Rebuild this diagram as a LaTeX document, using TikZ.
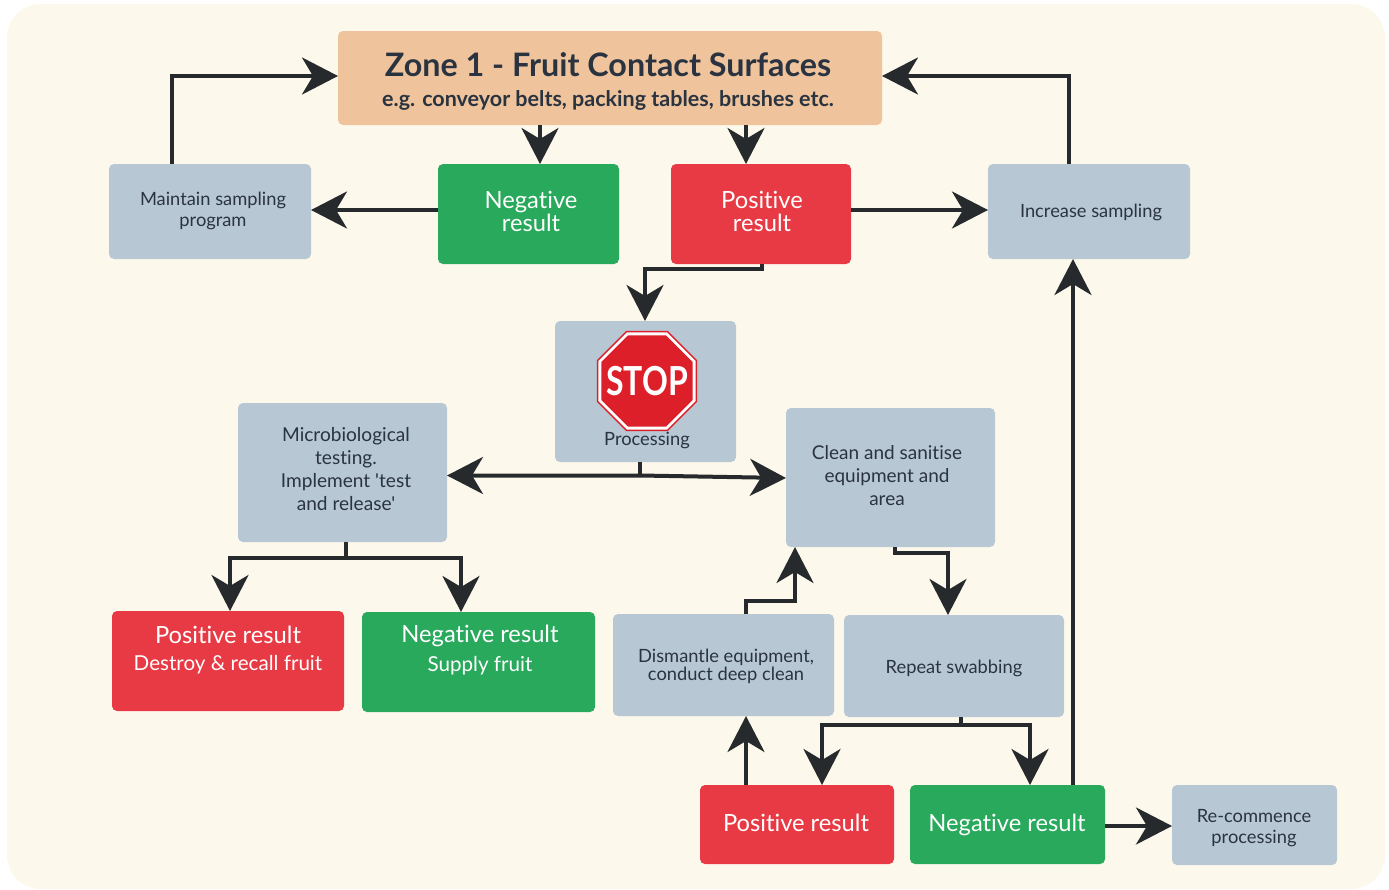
\documentclass[tikz,border=0pt]{standalone}
\usepackage{fontspec}
\defaultfontfeatures[\rmfamily]{}
\setmainfont{Lato}[Ligatures=NoCommon]
\usetikzlibrary{arrows.meta,shapes.geometric}
\definecolor{bgc}{HTML}{FDF8EC}
\definecolor{zonec}{HTML}{EFC39B}
\definecolor{greyc}{HTML}{B8C7D4}
\definecolor{greenc}{HTML}{28A95C}
\definecolor{redc}{HTML}{E83A44}
\definecolor{inkc}{HTML}{2A3340}
\definecolor{linec}{HTML}{262A2C}
\definecolor{stopc}{HTML}{DD1F29}
\tikzset{
  box/.style={rectangle,rounded corners=5pt,inner sep=0pt,outer sep=0pt,draw=none},
  txt/.style={align=center,inner sep=0pt,text=inkc,font=\fontsize{18.3}{21.5}\selectfont},
  wtxt/.style={align=center,inner sep=0pt,text=white},
  conn/.style={draw=linec,line width=4pt,line join=miter},
  arr/.style={conn,-{Stealth[length=36pt,width=37pt,inset=11pt]}},
  darr/.style={conn,{Stealth[length=36pt,width=37pt,inset=11pt]}-{Stealth[length=36pt,width=37pt,inset=11pt]}},
}
\newcommand{\bx}[6]{\node[box,fill=#6,minimum width={(#4-#2)*1pt},minimum height={(#5-#3)*1pt}] (#1) at ({(#2+#4)/2},{(#3+#5)/2}) {};}
\begin{document}
\begin{tikzpicture}[x=1pt,y=-1pt]
\useasboundingbox (0,0) rectangle (1389,889);
\fill[white] (0,0) rectangle (1389,889);
\fill[bgc,rounded corners=34pt] (7,4) rectangle (1385,889);
% boxes
\bx{zone}{338}{31}{882}{125}{zonec}
\bx{maintain}{109}{164}{311}{259}{greyc}
\bx{negA}{438}{164}{619}{264}{greenc}
\bx{posA}{671}{164}{851}{264}{redc}
\bx{inc}{988}{164}{1190}{259}{greyc}
\bx{stopbox}{555}{321}{736}{462}{greyc}
\bx{micro}{238}{403}{447}{542}{greyc}
\bx{clean}{786}{408}{995}{547}{greyc}
\bx{posB}{112}{611}{344}{711}{redc}
\bx{negB}{362}{612}{595}{712}{greenc}
\bx{dism}{613}{614}{834}{716}{greyc}
\bx{rep}{844}{615}{1064}{717}{greyc}
\bx{posC}{700}{785}{894}{864}{redc}
\bx{negC}{910}{785}{1105}{864}{greenc}
\bx{recom}{1172}{785}{1337}{865}{greyc}
% texts
\node[inkc,align=center,inner sep=0pt,font=\fontsize{32.3}{36}\bfseries\selectfont] (zoneT) at (608,65) {Zone 1 - Fruit Contact Surfaces};
\node[inkc,align=center,inner sep=0pt,font=\fontsize{21.5}{24}\bfseries\selectfont] (zoneS) at (608,100) {e.g. conveyor belts, packing tables, brushes etc.};
\node[txt] (maintainT) at (213,211) {Maintain sampling\\program};
\node[wtxt,font=\fontsize{23.7}{23}\selectfont] (negAT) at (531,211) {Negative\\result};
\node[wtxt,font=\fontsize{23.7}{23}\selectfont] (posAT) at (762,211) {Positive\\result};
\node[txt] (incT) at (1091,212.5) {Increase sampling};
\node[txt] (stopT) at (647,440) {Processing};
\node[regular polygon,regular polygon sides=8,draw=stopc,line width=1.5pt,fill=white,minimum size=107pt,inner sep=0pt] (sgnO) at (647,381) {};
\node[regular polygon,regular polygon sides=8,fill=stopc,minimum size=99pt,inner sep=0pt] (sgnI) at (647,381) {};
\node[inner sep=0pt,text=white,font=\fontsize{40}{40}\bfseries\selectfont] (sgnT) at (647,381) {\scalebox{0.8}[1]{STOP}};
\node[txt,font=\fontsize{19.1}{23}\selectfont] (microT) at (346,469) {Microbiological\\testing.\\Implement 'test\\and release'};
\node[txt,font=\fontsize{19}{23}\selectfont] (cleanT) at (887,476) {Clean and sanitise\\equipment and\\area};
\node[wtxt,font=\fontsize{23.7}{30}\selectfont] (posBT) at (228,635) {Positive result};
\node[wtxt,font=\fontsize{20.6}{24}\selectfont] (posBS) at (228,665) {Destroy \& recall fruit};
\node[wtxt,font=\fontsize{23.7}{30}\selectfont] (negBT) at (480,636) {Negative result};
\node[wtxt,font=\fontsize{20.6}{24}\selectfont] (negBS) at (480,666) {Supply fruit};
\node[txt,font=\fontsize{18.3}{18}\selectfont] (dismT) at (726,666) {Dismantle equipment,\\conduct deep clean};
\node[txt] (repT) at (954,668.5) {Repeat swabbing};
\node[wtxt,font=\fontsize{23.7}{30}\selectfont] (posCT) at (796,823) {Positive result};
\node[wtxt,font=\fontsize{23.7}{30}\selectfont] (negCT) at (1007,825) {Negative result};
\node[txt,font=\fontsize{18.3}{21}\selectfont] (recomT) at (1254,828) {Re-commence\\processing};
% connectors
\draw[arr] ([xshift=-38pt]maintain.north) |- ([yshift=2pt]zone.west);
\draw[arr] ([yshift=1.5pt]negA.west |- maintain.east) -- ([yshift=1.5pt]maintain.east);
\draw[arr] ([xshift=-70pt]zone.south) -- ([xshift=11.5pt]negA.north);
\draw[arr] ([xshift=136pt]zone.south) -- ([xshift=-15pt]posA.north);
\draw[arr] ([yshift=1.5pt]posA.east |- inc.west) -- ([yshift=1.5pt]inc.west);
\draw[arr] ([xshift=-20pt]inc.north) |- ([yshift=2pt]zone.east);
\draw[arr] ([xshift=1pt]posA.south) -- ++(0,5) -| ([xshift=-0.5pt]stopbox.north);
\draw[conn] ([xshift=-5.5pt]stopbox.south) -- ++(0,13.5) coordinate (jn);
\draw[darr] (micro.east |- jn) -- (jn) -- ([yshift=-0.5pt]clean.west);
\draw[conn] ([xshift=3.5pt]micro.south) -- ++(0,16) coordinate (jb);
\draw[arr] (jb) -| ([xshift=2pt]posB.north);
\draw[arr] (jb) -| ([xshift=-17.5pt]negB.north);
\draw[arr] ([xshift=4.5pt]clean.south) -- ++(0,6) -| ([xshift=-6pt]rep.north);
\draw[arr] ([xshift=22.5pt]dism.north) -- ++(0,-13) -| ([xshift=9pt]clean.south west);
\draw[conn] ([xshift=7pt]rep.south) -- ++(0,8) coordinate (jc);
\draw[arr] (jc) -| ([xshift=25pt]posC.north);
\draw[arr] (jc) -| ([xshift=22.5pt]negC.north);
\draw[arr] ([xshift=-51pt]posC.north) -- ([xshift=22.5pt]dism.south);
\draw[arr] ([xshift=65.5pt]negC.north) -- ([xshift=-16pt]inc.south);
\draw[arr] ([yshift=-1pt]negC.east |- recom.west) -- ([yshift=-1pt]recom.west);
\end{tikzpicture}
\end{document}
